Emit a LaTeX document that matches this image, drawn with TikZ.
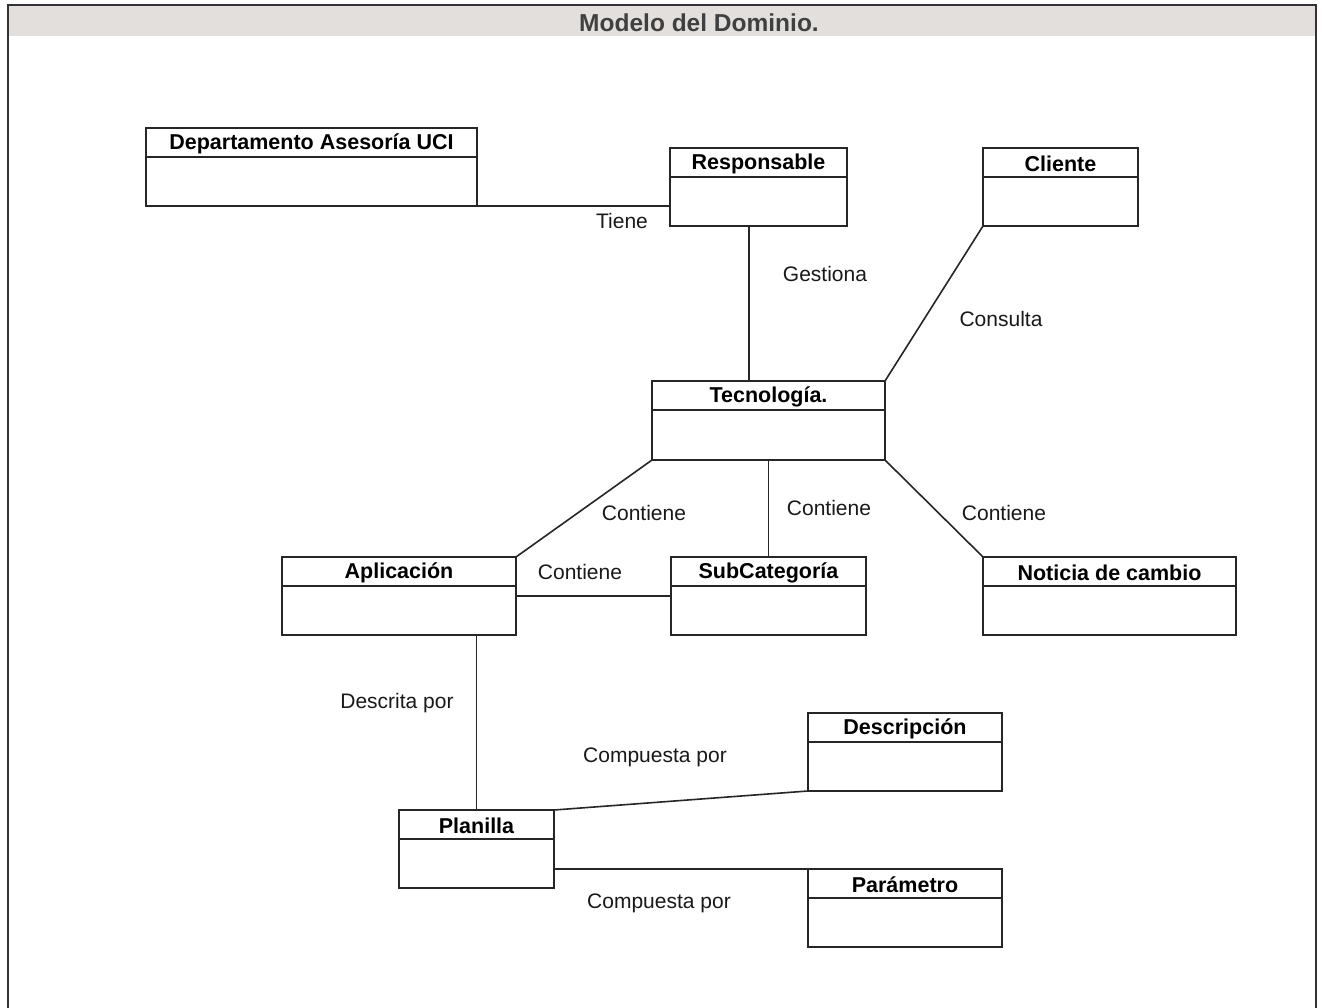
\documentclass[tikz,border=0pt]{standalone}
\usepackage{fontspec}
\setmainfont{Liberation Sans}
\begin{document}
\begin{tikzpicture}[x=1pt,y=-1pt,
  frame/.style={draw=frameclr,line width=2pt},
  clsbox/.style={draw=black!85,line width=1.7pt,fill=white,rectangle,inner sep=0pt,outer sep=0pt},
  clsline/.style={draw=black!85,line width=1.7pt},
  clsname/.style={font=\fontsize{21.5}{25}\selectfont\bfseries,inner sep=0pt},
  assoc/.style={draw=black!85,line width=1.6pt},
  lbl/.style={font=\fontsize{21}{25}\selectfont,text=black!90,inner sep=0pt}]
\definecolor{frameclr}{RGB}{50,50,55}
\definecolor{barclr}{RGB}{227,223,221}
\useasboundingbox (0,0) rectangle (1322,1008);
\fill[white] (0,0) rectangle (1322,1008);
% title bar and frame
\fill[barclr] (9,6) rectangle (1315,36);
\draw[frame] (8,1008) -- (8,5) -- (1316,5) -- (1316,1008);
\node[font=\fontsize{24.5}{28}\selectfont\bfseries,text=black!75,inner sep=0pt] (title) at (699,23) {Modelo del Dominio.};
% class boxes: name, centre, size, caption
\newcommand{\umlclass}[6]{%
  \node[clsbox,minimum width=#4pt,minimum height=#5pt] (#1) at (#2,#3) {};
  \draw[clsline] ([yshift=-29pt]#1.north west) -- ([yshift=-29pt]#1.north east);
  \node[clsname] (#1-name) at ([yshift=-15.5pt]#1.north) {#6};
}
\umlclass{dept}{311.5}{167}{331}{78}{Departamento Asesoría UCI}
\umlclass{resp}{758.5}{187}{177}{78}{Responsable}
\umlclass{cli}{1060.5}{187}{155}{78}{Cliente}
\umlclass{tec}{768.5}{420.5}{233}{79}{Tecnología.}
\umlclass{apl}{399}{596}{234}{78}{Aplicación}
\umlclass{sub}{768.5}{596}{195}{78}{SubCategoría}
\umlclass{not}{1109.5}{596}{253}{78}{Noticia de cambio}
\umlclass{desc}{905}{752}{194}{78}{Descripción}
\umlclass{plan}{476.5}{849}{155}{78}{Planilla}
\umlclass{par}{905}{908}{194}{78}{Parámetro}
% associations
\draw[assoc] (dept.south east) -- (dept.south east -| resp.west);
\draw[assoc] ([xshift=-9.5pt]resp.south) -- ([xshift=-9.5pt]resp.south |- tec.north);
\draw[assoc] (cli.south west) -- (tec.north east);
\draw[assoc] (tec.south west) -- (apl.north east);
\draw[assoc] (tec.south) -- (sub.north);
\draw[assoc] (tec.south east) -- (not.north west);
\draw[assoc] (apl.east) -- (apl.east -| sub.west);
\draw[assoc] (plan.north |- apl.south) -- (plan.north);
\draw[assoc] (plan.north east) -- (desc.south west);
\draw[assoc] (par.north west -| plan.east) -- (par.north west);
% association labels
\node[lbl] (l1) at (622,221) {Tiene};
\node[lbl] (l2) at (825,274) {Gestiona};
\node[lbl] (l3) at (1001,319) {Consulta};
\node[lbl] (l4) at (644,513) {Contiene};
\node[lbl] (l5) at (829,508) {Contiene};
\node[lbl] (l6) at (1004,513) {Contiene};
\node[lbl] (l7) at (580,572) {Contiene};
\node[lbl] (l8) at (397,703) {Descrita por};
\node[lbl] (l9) at (655,757) {Compuesta por};
\node[lbl] (l10) at (659,903) {Compuesta por};
\end{tikzpicture}
\end{document}
